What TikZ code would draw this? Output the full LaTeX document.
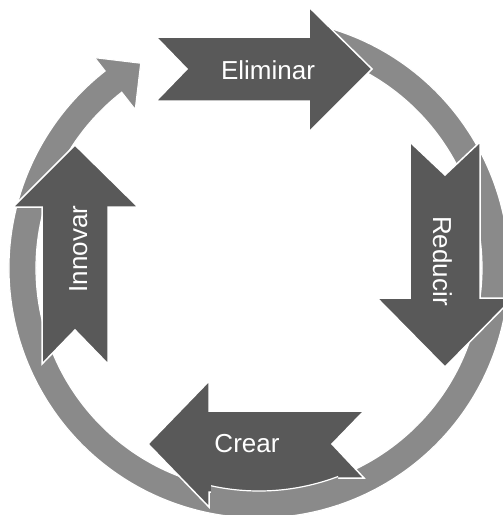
\documentclass[tikz,border=0pt]{standalone}
\usepackage{fontspec}
\setmainfont{Liberation Sans}
\definecolor{ringgray}{RGB}{138,138,138}
\definecolor{darkgray}{RGB}{89,89,89}
\begin{document}
\begin{tikzpicture}[x=1pt,y=-1pt,
  ringstyle/.style={fill=ringgray,draw=white,line width=1.2pt,line join=miter},
  arrowstyle/.style={fill=darkgray,draw=white,line width=1.5pt,line join=miter},
  lbl/.style={text=white,font=\fontsize{26}{30}\selectfont,inner sep=0pt}]
\useasboundingbox (0,0) rectangle (503,515);
\clip (0,0) rectangle (503,515);
% circular arrow ring
\begin{scope}[shift={(259,268)}]
  \coordinate (ringc) at (0,0);
  \path[ringstyle] (-75:250) arc[start angle=-75,end angle=232,radius=250]
     -- (232:267) -- (240:236.5) -- (232:201) -- (232:223)
     arc[start angle=232,end angle=-75,radius=223] -- cycle;
\end{scope}
% Eliminar
\path[arrowstyle] (156,37) -- (309,37) -- (309,7) -- (372,69) -- (309,132)
  -- (309,101) -- (156,101) -- (187,69) -- cycle;
% Reducir
\path[arrowstyle] (410,142) -- (445,175) -- (480,142) -- (480,298) -- (513,298)
  -- (445,367) -- (377,298) -- (410,298) -- cycle;
% Crear
\path[arrowstyle] (364,411) -- (209,411) -- (209,381) -- (148,444) -- (209,507)
  -- (209,492) -- (336,492) -- (336,478) -- (364,478) -- (332,444) -- cycle;
% ring piece lying over the lower edge of Crear
\begin{scope}
  \clip (211,470) rectangle (338,515);
  \begin{scope}[shift={(259,268)}]
    \path[ringstyle] (60:250) arc[start angle=60,end angle=120,radius=250]
       -- (120:223) arc[start angle=120,end angle=60,radius=223] -- cycle;
  \end{scope}
\end{scope}
% Innovar
\path[arrowstyle] (42,364) -- (42,207) -- (13,207) -- (75,145) -- (138,207)
  -- (108,207) -- (108,364) -- (75,330) -- cycle;
% labels
\node[lbl,anchor=base] (elim) at (268,79.3) {Eliminar};
\node[lbl,anchor=base,rotate=-90] (redu) at (433,261) {Reducir};
\node[lbl,anchor=base] (crea) at (247,452) {Crear};
\node[lbl,anchor=base,rotate=90] (inno) at (87,249) {Innovar};
\end{tikzpicture}
\end{document}
